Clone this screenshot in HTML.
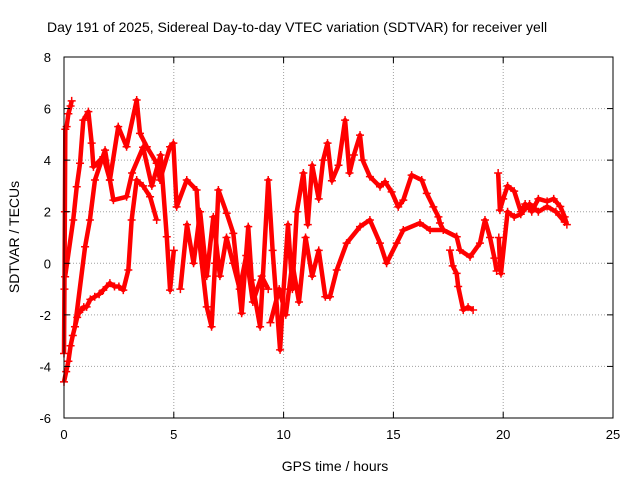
<!DOCTYPE html>
<html><head><meta charset="utf-8"><style>
body{margin:0;background:#fff;}
svg{display:block;font-family:"Liberation Sans",Arial,sans-serif;}
</style></head><body>
<svg id="chart" width="640" height="480" viewBox="0 0 640 480" xmlns="http://www.w3.org/2000/svg">
<text x="47" y="32" font-size="14" fill="#000">Day 191 of 2025, Sidereal Day-to-day VTEC variation (SDTVAR) for receiver yell</text>
<g id="grid"></g>
<g id="marks"></g>
<g id="axes"></g>
<text x="335" y="471" font-size="14" text-anchor="middle">GPS time / hours</text>
<text x="0" y="0" font-size="14" text-anchor="middle" transform="translate(19,237) rotate(-90)">SDTVAR / TECUs</text>
</svg>
<script>
const xTicks=[0,5,10,15,20,25];
const yTicks=[-6,-4,-2,0,2,4,6,8];
const arc1T=[0,0.1,0.2,0.3,0.4,0.5,0.6,0.7,0.8,0.9,1.03,1.2,1.4,1.6,1.79,2.09,2.3,2.5,2.7,2.93,3.08,3.31,3.6,3.92,4.22];
const arc1V=[-4.6,-4.2,-3.8,-3.2,-2.8,-2.46,-2.1,-1.9,-1.8,-1.7,-1.69,-1.4,-1.3,-1.2,-1.04,-0.77,-0.9,-0.9,-1.04,-0.26,1.68,3.23,3.0,2.58,1.68];
const arcEdgeT=[0,0.02,0.04,0.06,0.12,0.2,0.3,0.35];
const arcEdgeV=[-3.5,-1,2,5.2,5.3,5.8,6.1,6.3];
const arc2T=[0.05,0.42,0.58,0.73,0.88,1.11,1.26,1.34,1.79,2.09,2.47,2.85,3.31,3.46,3.77,4.22,4.37,4.83,4.98,5.13,5.59,6.04,6.19,6.5,6.72,6.88,7.03,7.41,7.71,8.09,8.39,8.55,8.93,9.3,9.5,9.84,10.0,10.2,10.4,10.6,10.9,11.1,11.3,11.6,11.8,12.0,12.2,12.5,12.8,13.0,13.2,13.48,13.6,13.93,14.39,14.62,14.92,15.22,15.45,15.83,16.29,16.52,16.82,17.05,17.12,17.27,17.88,18.03,18.49,18.94,19.17,19.4,19.6,19.7];
const arc2V=[-0.52,1.68,2.97,3.88,5.55,5.88,4.66,3.74,4.13,3.23,5.3,4.52,6.33,5.04,4.52,3.88,3.23,4.52,4.66,2.19,3.23,2.84,0.64,-1.69,-2.46,0,2.84,1.94,1.16,-1.94,1.42,-0.65,-2.46,3.23,0.5,-3.36,-1,1.5,-1,2,3.5,1.5,3.8,2.5,4,4.66,3.2,3.8,5.55,3.5,4.2,4.97,4.0,3.36,2.97,3.16,2.77,2.19,2.45,3.42,3.23,2.71,2.19,1.8,1.56,1.29,1.03,0.51,0.25,0.78,1.68,1.0,0.2,-0.3];
const arc3T=[9.4,9.8,10.1,10.4,10.7,11.0,11.3,11.6,11.9,12.11,12.42,12.87,13.48,13.93,14.39,14.69,15.15,15.45,16.21,16.67,17.27,17.88];
const arc3V=[-2.3,-1,-2,0,-1.5,1,-0.5,0.5,-1.3,-1.3,-0.26,0.78,1.42,1.68,0.78,0,0.78,1.29,1.56,1.29,1.29,1.03];
const arc4T=[17.58,17.7,17.88,17.95,18.18,18.4,18.63];
const arc4V=[0.51,-0.1,-0.39,-0.9,-1.81,-1.7,-1.81];
const arc5T=[19.77,19.85,20.0,20.2,20.5,20.8,21.0,21.3,21.6,22.0,22.3,22.6,22.8,22.9];
const arc5V=[3.5,2.06,2.5,3,2.8,2,2.3,2,2.5,2.4,2.5,2.2,1.8,1.5];
const arc6T=[19.8,19.85,19.9,20.2,20.5,20.8,21.2,21.6,22.0,22.4,22.8];
const arc6V=[1.0,0,-0.4,2,1.8,1.9,2.3,2.0,2.2,2.0,1.6];
const arc7T=[0.5,0.96,1.18,1.41,1.87,2.09,2.25,2.85,3.1,3.6,4.0,4.4,4.68,4.83,5.0];
const arc7V=[-2.46,0.64,1.68,3.23,4.39,3.23,2.45,2.58,3.5,4.5,3.0,4.2,1.03,-1.04,0.5];
const arc8T=[5.3,5.6,5.9,6.2,6.5,6.8,7.1,7.4,7.7,8.0,8.3,8.6,9.0,9.3];
const arc8V=[-1,1.5,0,2,-0.5,1.8,-0.5,1,0,-1,0.3,-1.5,-0.5,-1];
const L=64,R=613,T=57,B=418;
const xS=t=>L+(t-0)/(25-0)*(R-L);
const yS=v=>B-(v+6)/(14)*(B-T);
const NS='http://www.w3.org/2000/svg';
const grid=document.getElementById('grid'),axes=document.getElementById('axes'),marks=document.getElementById('marks');
function mk(tag,attrs,parent){const e=document.createElementNS(NS,tag);for(const k in attrs)e.setAttribute(k,attrs[k]);parent.appendChild(e);return e;}
xTicks.forEach(t=>{const x=xS(t);
 if(t>0&&t<25){const g=mk('line',{x1:x,y1:T,x2:x,y2:B,stroke:'#a0a0a0','stroke-dasharray':'1,2'},grid);
 
 }
 mk('line',{x1:x,y1:B,x2:x,y2:B-6,stroke:'#000'},axes);mk('line',{x1:x,y1:T,x2:x,y2:T+6,stroke:'#000'},axes);
 const lb=mk('text',{x:x,y:B+21,'font-size':13,'text-anchor':'middle'},axes);lb.textContent=t;
 
 });
yTicks.forEach(v=>{const y=yS(v);
 if(v>-6&&v<8){const g=mk('line',{x1:L,y1:y,x2:R,y2:y,stroke:'#a0a0a0','stroke-dasharray':'1,2'},grid);
 
 }
 mk('line',{x1:L,y1:y,x2:L+6,y2:y,stroke:'#000'},axes);mk('line',{x1:R,y1:y,x2:R-6,y2:y,stroke:'#000'},axes);
 const lb=mk('text',{x:L-13,y:y+5,'font-size':13,'text-anchor':'end'},axes);lb.textContent=v;
 
 });
mk('rect',{x:L,y:T,width:R-L,height:B-T,fill:'none',stroke:'#000'},axes);
[[arc1T,arc1V],[arcEdgeT,arcEdgeV],[arc2T,arc2V],[arc3T,arc3V],[arc4T,arc4V],[arc5T,arc5V],[arc6T,arc6V],[arc7T,arc7V],[arc8T,arc8V]].forEach((a,i)=>{
 const pts=a[0].map((t,j)=>xS(t)+','+yS(a[1][j])).join(' ');
 const pl=mk('polyline',{points:pts,fill:'none',stroke:'#f00','stroke-width':4.5,'stroke-linejoin':'round'},marks);
 
 
 a[0].forEach((t,j)=>{const x=xS(t),y=yS(a[1][j]);
  const p=mk('path',{d:`M${x-4},${y}H${x+4}M${x},${y-4}V${y+4}`,stroke:'#f00','stroke-width':1.5},marks);
  
  });
});
</script>
</body></html>
